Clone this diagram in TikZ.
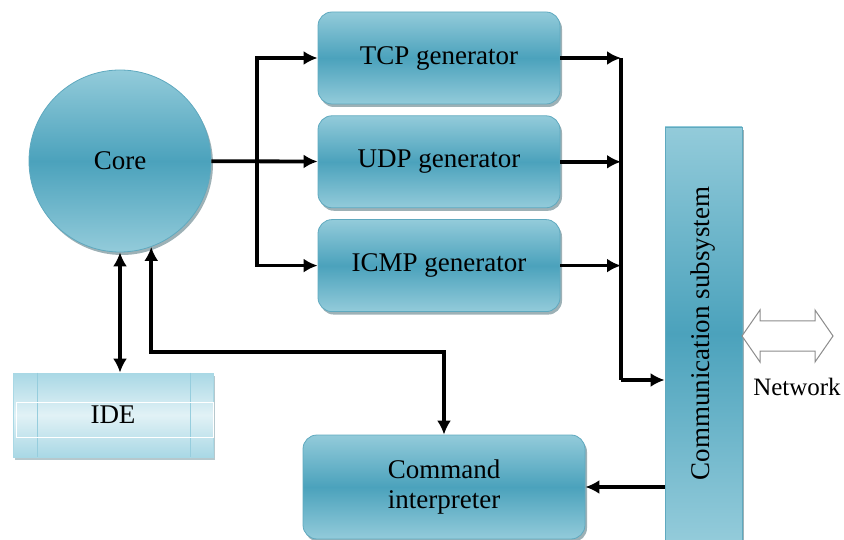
\documentclass[tikz,border=0pt]{standalone}
\usepackage{fontspec}
\setmainfont{Liberation Serif}
\newfontfamily\diagfont{Liberation Serif}
\usetikzlibrary{arrows.meta, positioning, shadows}
\definecolor{cTeal}  {HTML}{4BA2BC}
\definecolor{cTealLt}{HTML}{93CBDA}
\definecolor{cEdge}  {HTML}{5FA9BF}
\definecolor{cIde}   {HTML}{A9D8E5}

\begin{document}
\begin{tikzpicture}[x=1pt, y=-1pt, font=\diagfont\fontsize{27}{30}\selectfont,
      box/.style  = {draw=cEdge, line width=0.8pt, top color=cTealLt, bottom color=cTealLt, middle color=cTeal,
                     drop shadow={shadow xshift=2pt, shadow yshift=-3pt, fill=cTeal!50!black, opacity=0.45}},
      gen/.style  = {box, rounded corners=14pt, minimum width=242pt, minimum height=92pt, align=center},
      core/.style = {box, circle, minimum size=182pt},
      bar/.style  = {box, minimum width=77pt, minimum height=413pt},
      ide/.style  = {draw=cIde, line width=0.8pt, top color=cIde, bottom color=cIde, middle color=cIde!35,
                     minimum width=200pt, minimum height=84pt,
                     drop shadow={shadow xshift=2pt, shadow yshift=-3pt, fill=cTeal!60!black, opacity=0.35}},
      ln/.style   = {line width=3.8pt, draw=black},
      ar/.style   = {ln, -{Latex[length=14pt, width=14pt]}},
      dar/.style  = {ln, {Latex[length=14pt, width=14pt]}-{Latex[length=14pt, width=14pt]}} ]
    \useasboundingbox (0,0) rectangle (844,540);

    \node[core]                    (core) at (120,161) {Core};
    \node[gen]                     (tcp)  at (439,58)  {TCP generator};
    \node[gen,  below=11pt of tcp] (udp)  {UDP generator};
    \node[gen,  below=11pt of udp] (icmp) {ICMP generator};
    \node[bar]                     (comm) at (703.5,333.5) {\rotatebox{90}{Communication subsystem}};
    \node[gen, minimum width=282pt, minimum height=104pt] (cmd) at (444,487) {Command\\interpreter};

    \node[ide] (idebox) at (113,415) {IDE};
    \draw[cIde!80!cTeal, line width=1pt] ([xshift=25pt]idebox.north west) -- ([xshift=25pt]idebox.south west);
    \draw[cIde!80!cTeal, line width=1pt] ([xshift=-23pt]idebox.north east) -- ([xshift=-23pt]idebox.south east);
    \draw[white, line width=1pt] ([xshift=4pt, yshift=-30pt]idebox.north west) rectangle ([yshift=20pt]idebox.south east);

    % network
    \draw[gray!90, fill=white, line width=1pt] (742,336) -- (760,310) -- (760,321) -- (815,321) -- (815,310)
      -- (833,336) -- (815,362) -- (815,351) -- (760,351) -- (760,362) -- cycle;
    \node (net) at (797,387) {\fontsize{25}{28}\selectfont Network};

    % core to generators
    \coordinate (split) at (257,161);
    \draw[ar] (core) -- (udp);
    \draw[ar] (split) |- (tcp.west); \draw[ar] (split) |- (icmp.west);

    % generators to communication subsystem
    \coordinate (merge) at (621,380);
    \draw[ar] (tcp.east) -- (tcp.east -| merge);  \draw[ar] (udp.east) -- (udp.east -| merge);
    \draw[ar] (icmp.east) -- (icmp.east -| merge);
    \draw[ln] (tcp.east -| merge) -- (merge);
    \draw[ar] (merge) -- (merge -| comm.west);
    \draw[ar] (comm.west |- cmd.east) -- (cmd.east);

    % core links
    \coordinate (bus) at (300,352);
    \draw[dar] (core.south) -- (core.south |- idebox.north);
    \draw[dar] (core.-70) |- (bus) -| (cmd.north);
  \end{tikzpicture}
\end{document}
